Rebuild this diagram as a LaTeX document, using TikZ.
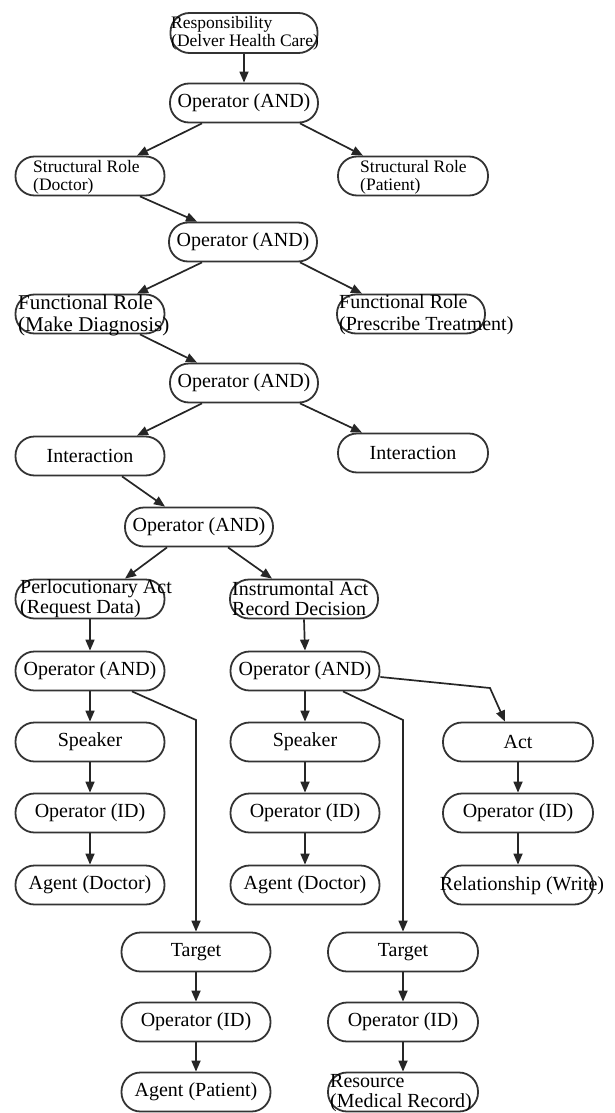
\documentclass[tikz,border=0pt]{standalone}
\usepackage{fontspec}
\setmainfont{Liberation Serif}
\usetikzlibrary{arrows.meta}
\begin{document}
\begin{tikzpicture}[x=1pt,y=-1pt,
  box/.style={draw=black!80, line width=1.8pt, rounded corners=19pt, minimum width=149pt, minimum height=39pt, inner sep=0pt, font=\fontsize{20}{21}\selectfont},
  txt/.style={inner sep=0pt, align=left, font=\fontsize{20}{20}\selectfont},
  small/.style={inner sep=0pt, align=left, font=\fontsize{17.5}{18}\selectfont},
  arr/.style={draw=black!85, line width=1.7pt, -{Triangle[length=11pt,width=9pt]}}]
\useasboundingbox (0,0) rectangle (615,1113);

% top part
\node[box, minimum width=147pt, minimum height=40pt] (resp) at (244,33) {};
\node[small, anchor=west] (respt) at (171,33) {Responsibility\\(Delver Health Care)};
\node[box, minimum width=148pt] (op1) at (244,103) {Operator (AND)};
\node[box] (srd) at (90,176) {};
\node[small, anchor=west] (srdt) at (33,177) {Structural Role\\(Doctor)};
\node[box, minimum width=150pt] (srp) at (413,176) {};
\node[small, anchor=west] (srpt) at (360,177) {Structural Role\\(Patient)};
\node[box, minimum width=148pt] (op2) at (243,242) {Operator (AND)};
\node[box] (frd) at (90,314) {};
\node[txt, anchor=west, font=\fontsize{21}{22}\selectfont] (frdt) at (18,315) {Functional Role\\(Make Diagnosis)};
\node[box, minimum width=148pt] (frp) at (411,314) {};
\node[txt, anchor=west, font=\fontsize{20}{22}\selectfont] (frpt) at (339,315) {Functional Role\\(Prescribe Treatment)};
\node[box, minimum width=148pt] (op3) at (244,383) {Operator (AND)};
\node[box] (intl) at (90,456) {Interaction};
\node[box, minimum width=150pt] (intr) at (413,453) {Interaction};
\node[box, minimum width=148pt] (op4) at (199,527) {Operator (AND)};
\node[box] (perl) at (90,599) {};
\node[txt, anchor=west] (perlt) at (20,599) {Perlocutionary Act\\(Request Data)};
\node[box, minimum width=148pt] (inst) at (304,599) {};
\node[txt, anchor=west] (instt) at (232,599) {Instrumontal Act\\Record Decision};

% lower part
\node[box] (op5l) at (90,671) {Operator (AND)};
\node[box] (op5r) at (305,671) {Operator (AND)};
\node[box] (spl) at (90,742) {Speaker};
\node[box] (spr) at (305,742) {Speaker};
\node[box, minimum width=150pt] (act) at (518,742) {Act};
\node[box] (idl) at (90,813) {Operator (ID)};
\node[box] (idm) at (305,813) {Operator (ID)};
\node[box, minimum width=150pt] (idr) at (518,813) {Operator (ID)};
\node[box] (agl) at (90,885) {Agent (Doctor)};
\node[box] (agm) at (305,885) {Agent (Doctor)};
\node[box, minimum width=150pt] (rel) at (518,885) {};
\node[txt] (relt) at (522,886) {Relationship (Write)};
\node[box] (tgl) at (196,952) {Target};
\node[box, minimum width=150pt] (tgr) at (403,952) {Target};
\node[box] (id2l) at (196,1022) {Operator (ID)};
\node[box, minimum width=150pt] (id2r) at (403,1022) {Operator (ID)};
\node[box] (agp) at (196,1092) {Agent (Patient)};
\node[box, minimum width=150pt] (res) at (403,1092) {};
\node[txt, anchor=west] (rest) at (330,1093) {Resource\\(Medical Record)};

\coordinate (bl) at (196,720);
\coordinate (br) at (403,720);
\coordinate (ba) at (490,688);

% connectors
\draw[arr] (resp.south) -- (op1.north);
\draw[arr] ([xshift=-42pt]op1.south) -- ([xshift=47pt]srd.north);
\draw[arr] ([xshift=56pt]op1.south) -- ([xshift=-50pt]srp.north);
\draw[arr] ([xshift=50pt]srd.south) -- ([xshift=-46pt]op2.north);
\draw[arr] ([xshift=-41pt]op2.south) -- ([xshift=47pt]frd.north);
\draw[arr] ([xshift=57pt]op2.south) -- ([xshift=-49pt]frp.north);
\draw[arr] ([xshift=50pt]frd.south) -- ([xshift=-47pt]op3.north);
\draw[arr] ([xshift=-42pt]op3.south) -- ([xshift=47pt]intl.north);
\draw[arr] ([xshift=56pt]op3.south) -- ([xshift=-51pt]intr.north);
\draw[arr] ([xshift=32pt]intl.south) -- ([xshift=-34pt]op4.north);
\draw[arr] ([xshift=-32pt]op4.south) -- ([xshift=35pt]perl.north);
\draw[arr] ([xshift=29pt]op4.south) -- ([xshift=-32pt]inst.north);
\draw[arr] (perl.south) -- (op5l.north);
\draw[arr] (inst.south) -- (op5r.north);
\draw[arr] (op5l.south) -- (spl.north);
\draw[arr] (spl.south) -- (idl.north);
\draw[arr] (idl.south) -- (agl.north);
\draw[arr] (op5r.south) -- (spr.north);
\draw[arr] (spr.south) -- (idm.north);
\draw[arr] (idm.south) -- (agm.north);
\draw[arr] (act.south) -- (idr.north);
\draw[arr] (idr.south) -- (rel.north);
\draw[arr] ([xshift=42pt]op5l.south) -- (bl) -- (tgl.north);
\draw[arr] ([xshift=38pt]op5r.south) -- (br) -- (tgr.north);
\draw[arr] ([yshift=-6pt]op5r.east) -- (ba) -- ([xshift=-13pt]act.north);
\draw[arr] (tgl.south) -- (id2l.north);
\draw[arr] (id2l.south) -- (agp.north);
\draw[arr] (tgr.south) -- (id2r.north);
\draw[arr] (id2r.south) -- (res.north);
\end{tikzpicture}
\end{document}
